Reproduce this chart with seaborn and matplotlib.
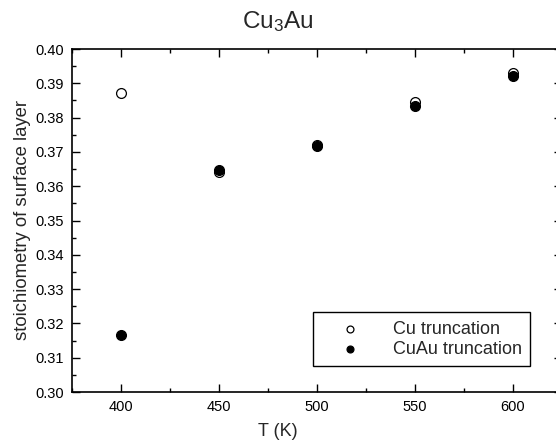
import numpy as np
import matplotlib
matplotlib.use("Agg")
import matplotlib.pyplot as plt
from matplotlib.ticker import MultipleLocator
import pandas as pd
import seaborn as sns

# Daten
temps = [400, 450, 500, 550, 600]
cu_trunc = [0.3872, 0.3642, 0.3720, 0.3845, 0.3930]
cuau_trunc = [0.3165, 0.3647, 0.3716, 0.3835, 0.3920]

sns.set_style("ticks")
plt.rcParams['font.family'] = ['Liberation Sans', 'DejaVu Sans']
plt.rcParams['mathtext.fontset'] = 'custom'
plt.rcParams['mathtext.rm'] = 'Liberation Sans'
plt.rcParams['mathtext.it'] = 'Liberation Sans:italic'

df = pd.DataFrame({"T": temps + temps,
                   "stoich": cu_trunc + cuau_trunc,
                   "series": ["Cu truncation"] * 5 + ["CuAu truncation"] * 5})

fig = plt.figure(figsize=(5.56, 4.42), dpi=100)
ax = fig.add_axes([72 / 556, 1 - 392 / 442, 490 / 556, 343 / 442])

sns.scatterplot(data=df[df.series == "Cu truncation"], x="T", y="stoich", ax=ax,
                s=50, facecolor="white", edgecolor="black", linewidth=0.9,
                label="Cu truncation", zorder=3)
sns.scatterplot(data=df[df.series == "CuAu truncation"], x="T", y="stoich", ax=ax,
                s=50, facecolor="black", edgecolor="black", linewidth=0.9,
                label="CuAu truncation", zorder=4)

ax.set_xlim(375, 625)
ax.set_ylim(0.30, 0.40)
ax.xaxis.set_major_locator(MultipleLocator(50))
ax.xaxis.set_minor_locator(MultipleLocator(25))
ax.yaxis.set_major_locator(MultipleLocator(0.01))
ax.yaxis.set_minor_locator(MultipleLocator(0.005))
ax.yaxis.set_major_formatter(plt.FormatStrFormatter("%.2f"))
ax.tick_params(which="both", direction="in", top=True, right=True, width=1, colors="black",
               labelsize=10.5, labelcolor="black")
ax.tick_params(which="major", length=6, pad=6)
ax.tick_params(which="minor", length=3)
for sp in ax.spines.values():
    sp.set_visible(True)
    sp.set_linewidth(1.2)
    sp.set_color("black")

ax.set_xlabel("")
ax.set_ylabel("stoichiometry of surface layer", fontsize=13.3, labelpad=3)
fig.text(0.5, 1 - 432 / 442, "T (K)", ha="center", va="center", fontsize=13)
fig.text(0.5, 1 - 22 / 442, r"Cu$_{3}$Au", ha="center", va="center", fontsize=17.5)

leg = ax.legend(loc="lower right", bbox_to_anchor=(0.935, 0.075), frameon=True, fancybox=False,
                edgecolor="black", fontsize=13, markerscale=0.7, handletextpad=0.8,
                borderpad=0.45, labelspacing=0.2, borderaxespad=0, framealpha=1,
                handlelength=3.2)
leg.get_frame().set_linewidth(1.0)

fig.savefig("out.png", dpi=100)
